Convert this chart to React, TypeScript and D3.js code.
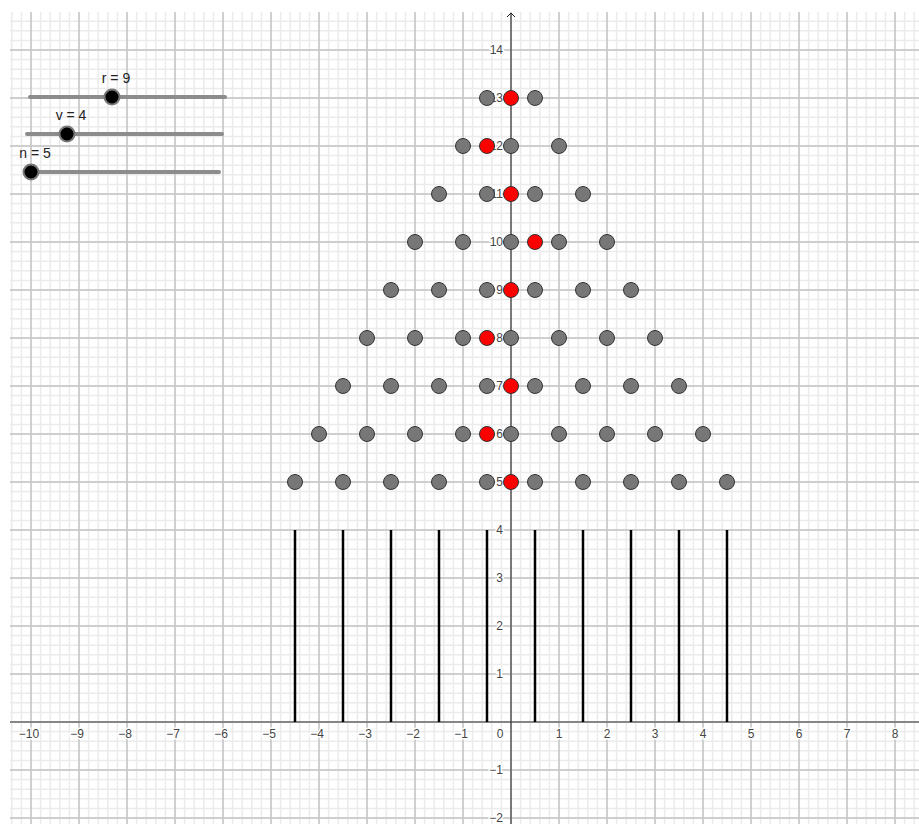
import React from "react";
import * as d3 from "d3";

const W = 919;
const H = 824;

// Peg rows: y level and peg x-positions
const pegRowY = [13, 12, 11, 10, 9, 8, 7, 6, 5];
const pegRowX = [
  [-0.5, 0.5],
  [-1, 0, 1],
  [-1.5, -0.5, 0.5, 1.5],
  [-2, -1, 0, 1, 2],
  [-2.5, -1.5, -0.5, 0.5, 1.5, 2.5],
  [-3, -2, -1, 0, 1, 2, 3],
  [-3.5, -2.5, -1.5, -0.5, 0.5, 1.5, 2.5, 3.5],
  [-4, -3, -2, -1, 0, 1, 2, 3, 4],
  [-4.5, -3.5, -2.5, -1.5, -0.5, 0.5, 1.5, 2.5, 3.5, 4.5],
];

// Ball path (red points)
const ballY = [13, 12, 11, 10, 9, 8, 7, 6, 5];
const ballX = [0, -0.5, 0, 0.5, 0, -0.5, 0, -0.5, 0];

// Bins (vertical bars)
const binX = [-4.5, -3.5, -2.5, -1.5, -0.5, 0.5, 1.5, 2.5, 3.5, 4.5];
const binTop = [4, 4, 4, 4, 4, 4, 4, 4, 4, 4];

// Axis tick labels
const xTicks = [-10, -9, -8, -7, -6, -5, -4, -3, -2, -1, 0, 1, 2, 3, 4, 5, 6, 7, 8];
const yTicks = [-2, -1, 1, 2, 3, 4, 5, 6, 7, 8, 9, 10, 11, 12, 13, 14];

// Sliders
const sliderNames = ["r", "v", "n"];
const sliderValues = [9, 4, 5];
const sliderMin = [5, 3, 5];
const sliderMax = [17, 15, 17];

const x = d3.scaleLinear().domain([-10, 8]).range([31, 895]);
const y = d3.scaleLinear().domain([0, 14]).range([722, 50]);

const GL = 10;
const GT = 12;

const fmt = (v: number) => (v < 0 ? "\u2212" + Math.abs(v) : String(v));

export default function App() {
  const xMin = x.invert(GL);
  const xMax = x.invert(W);
  const yMax = y.invert(GT);
  const yMin = y.invert(H);

  const minorX = d3.range(Math.ceil(xMin * 5), Math.floor(xMax * 5) + 1).map((k) => k / 5);
  const minorY = d3.range(Math.ceil(yMin * 5), Math.floor(yMax * 5) + 1).map((k) => k / 5);
  const majorX = d3.range(Math.ceil(xMin), Math.floor(xMax) + 1);
  const majorY = d3.range(Math.ceil(yMin), Math.floor(yMax) + 1);

  const sliderGeom = [
    { x0: 30, x1: 225, yy: 97 },
    { x0: 27, x1: 222, yy: 134 },
    { x0: 25, x1: 219, yy: 172 },
  ];
  const knobX = [112, 67, 31];

  const labelStyle: React.CSSProperties = {
    paintOrder: "stroke",
  };

  return (
    <svg
      width={W}
      height={H}
      style={{ position: "absolute", left: 0, top: 0, background: "#fff" }}
      fontFamily="'Liberation Sans', Arial, sans-serif"
    >
      <defs>
        <clipPath id="gridclip">
          <rect x={GL} y={GT} width={W - GL} height={H - GT} />
        </clipPath>
      </defs>
      <g clipPath="url(#gridclip)">
        {minorX.map((v, i) => (
          <line key={"mx" + i} x1={x(v)} x2={x(v)} y1={GT} y2={H} stroke="#ebebeb" strokeWidth={1.5} />
        ))}
        {minorY.map((v, i) => (
          <line key={"my" + i} y1={y(v)} y2={y(v)} x1={GL} x2={W} stroke="#ebebeb" strokeWidth={1.5} />
        ))}
        {majorX.map((v, i) => (
          <line key={"Mx" + i} x1={x(v)} x2={x(v)} y1={GT} y2={H} stroke="#c4c4c4" strokeWidth={1.5} />
        ))}
        {majorY.map((v, i) => (
          <line key={"My" + i} y1={y(v)} y2={y(v)} x1={GL} x2={W} stroke="#c4c4c4" strokeWidth={1.5} />
        ))}
        {/* axes */}
        <line x1={GL} x2={W} y1={y(0)} y2={y(0)} stroke="#6e6e6e" strokeWidth={1.5} />
        <line x1={x(0)} x2={x(0)} y1={GT + 1} y2={H} stroke="#222" strokeWidth={1} />
        <path
          d={`M${x(0) - 4},${GT + 5} L${x(0)},${GT + 1} L${x(0) + 4},${GT + 5}`}
          fill="none"
          stroke="#222"
          strokeWidth={1}
        />
      </g>
      {/* tick labels */}
      <g fontSize={12} fill="#444" stroke="#fff" strokeWidth={3} style={labelStyle}>
        {xTicks.map((v) => (
          <text
            key={"xt" + v}
            x={v === 0 ? x(0) - 11 : x(v) + (v < 0 ? -2 : 0)}
            y={y(0) + 16}
            textAnchor="middle"
          >
            {fmt(v)}
          </text>
        ))}
        {yTicks.map((v) => (
          <text key={"yt" + v} x={x(0) - 8} y={y(v) + 4} textAnchor="end">
            {fmt(v)}
          </text>
        ))}
      </g>
      {/* bins */}
      {binX.map((v, i) => (
        <line key={"b" + i} x1={x(v)} x2={x(v)} y1={y(0)} y2={y(binTop[i])} stroke="#000" strokeWidth={2.5} />
      ))}
      {/* pegs */}
      {pegRowY.map((ry, r) =>
        pegRowX[r].map((px, k) => (
          <circle key={`p${r}-${k}`} cx={x(px)} cy={y(ry)} r={7.5} fill="#777" stroke="#333" strokeWidth={1} />
        ))
      )}
      {/* ball path */}
      {ballY.map((by, i) => (
        <circle key={"ball" + i} cx={x(ballX[i])} cy={y(by)} r={7.5} fill="#ff0000" stroke="#333" strokeWidth={1} />
      ))}
      {/* sliders */}
      {sliderNames.map((nm, i) => {
        const g = sliderGeom[i];
        const kx = knobX[i];
        return (
          <g key={"s" + nm}>
            <line x1={g.x0} x2={g.x1} y1={g.yy} y2={g.yy} stroke="#8c8c8c" strokeWidth={4} strokeLinecap="round" />
            <circle cx={kx} cy={g.yy} r={7.5} fill="#000" stroke="#777" strokeWidth={2} />
            <text x={kx + 4} y={g.yy - 14} textAnchor="middle" fontSize={14} fill="#222">
              {`${nm} = ${sliderValues[i]}`}
            </text>
          </g>
        );
      })}
    </svg>
  );
}
